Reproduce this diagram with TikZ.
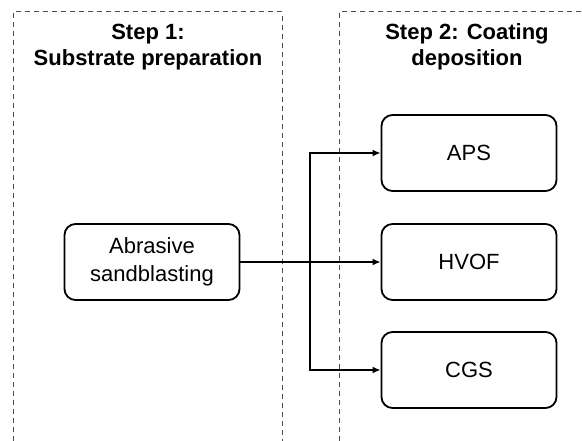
\documentclass[tikz,border=0pt]{standalone}
\usepackage{fontspec}
\setmainfont{Liberation Sans}
\usetikzlibrary{arrows.meta}
\begin{document}
\begin{tikzpicture}[
    x=1pt, y=-1pt,
    box/.style={
        draw,
        line width=1.8pt,
        rounded corners=11pt,
        minimum width=175pt,
        minimum height=76pt,
        align=center,
        anchor=center,
        font=\fontsize{22}{28}\selectfont
    },
    title/.style={
        align=center,
        anchor=center,
        font=\fontsize{22}{26}\selectfont\bfseries
    },
    frame/.style={dash pattern=on 5pt off 4pt, line width=1pt, black!70},
    arrow/.style={-{Latex[length=8pt,width=7pt]}, line width=1.6pt}
]
\useasboundingbox (0,0) rectangle (582,441);

% Step frames (open at the bottom)
\draw[frame] (13,441) -- (13,12) -- (282,12) -- (282,441);
\draw[frame] (339,441) -- (339,12) -- (582,12);

% Titles
\node[title] (step1) at (148,47) {Step 1:\\Substrate preparation};
\node[title] (step2) at (467,47) {Step 2: Coating\\deposition};

% Process boxes
\node[box] (blast) at (152,262) {Abrasive\\sandblasting};
\node[box] (aps)   at (469,153) {APS};
\node[box] (hvof)  at (469,262) {HVOF};
\node[box] (cgs)   at (469,370) {CGS};

% Branch point
\coordinate (split) at (310,262);

% Connectors
\draw[arrow] (blast.east) -- (hvof.west);
\draw[arrow] (split) |- (aps.west);
\draw[arrow] (split) |- (cgs.west);

\end{tikzpicture}
\end{document}
